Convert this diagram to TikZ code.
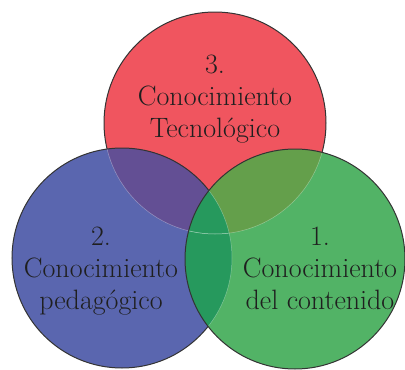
\documentclass[tikz,border=0pt]{standalone}
\usepackage{fontspec}
\usepackage{tikz}
\usetikzlibrary{positioning}

\definecolor{tecred}{HTML}{F0555F}
\definecolor{pedblue}{HTML}{5A66AF}
\definecolor{congreen}{HTML}{52B366}
\definecolor{tecped}{HTML}{634F94}
\definecolor{teccon}{HTML}{649F4B}
\definecolor{pedcon}{HTML}{26995D}

\begin{document}
\begin{tikzpicture}
    [x=1pt, y=-1pt,
      ring/.style={draw=black!80, line width=1pt},
      seam/.style={draw=white, opacity=0.35, line width=0.5pt},
      knowtext/.style={align=center, anchor=north, inner sep=0pt, text=black!88,
        font=\fontsize{28}{32}\selectfont}]

    \useasboundingbox (0,0) rectangle (405,370);

    \coordinate (ctec) at (215,123);
    \coordinate (cped) at (122,258);
    \coordinate (ccon) at (295,259);

    % red circle
    \fill[tecred] (ctec) circle (111pt);
    \draw[ring] (ctec) circle (111pt);
    % blue circle and its overlap with red
    \fill[pedblue] (cped) circle (110pt);
    \begin{scope}
      \clip (ctec) circle (111pt);
      \fill[tecped] (cped) circle (110pt);
    \end{scope}
    \draw[ring] (cped) circle (110pt);
    % green circle and its overlaps
    \fill[congreen] (ccon) circle (110pt);
    \begin{scope}
      \clip (ctec) circle (111pt);
      \fill[teccon] (ccon) circle (110pt);
    \end{scope}
    \begin{scope}
      \clip (cped) circle (110pt);
      \fill[pedcon] (ccon) circle (110pt);
    \end{scope}
    % faint inner seams
    \begin{scope}
      \clip (cped) circle (110pt);
      \draw[seam] (ctec) circle (111pt);
    \end{scope}
    \begin{scope}
      \clip (ccon) circle (110pt);
      \draw[seam] (ctec) circle (111pt);
      \draw[seam] (cped) circle (110pt);
    \end{scope}
    \draw[ring] (ccon) circle (110pt);

    \node[knowtext] (ttec) at (215,54.5) {3.\\Conocimiento\\Tecnológico};
    \node[knowtext] (tped) at (101,226.5) {2.\\Conocimiento\\pedagógico};
    \node[knowtext] (tcon) at (320,226.5) {1.\\Conocimiento\\del contenido};
\end{tikzpicture}
\end{document}
